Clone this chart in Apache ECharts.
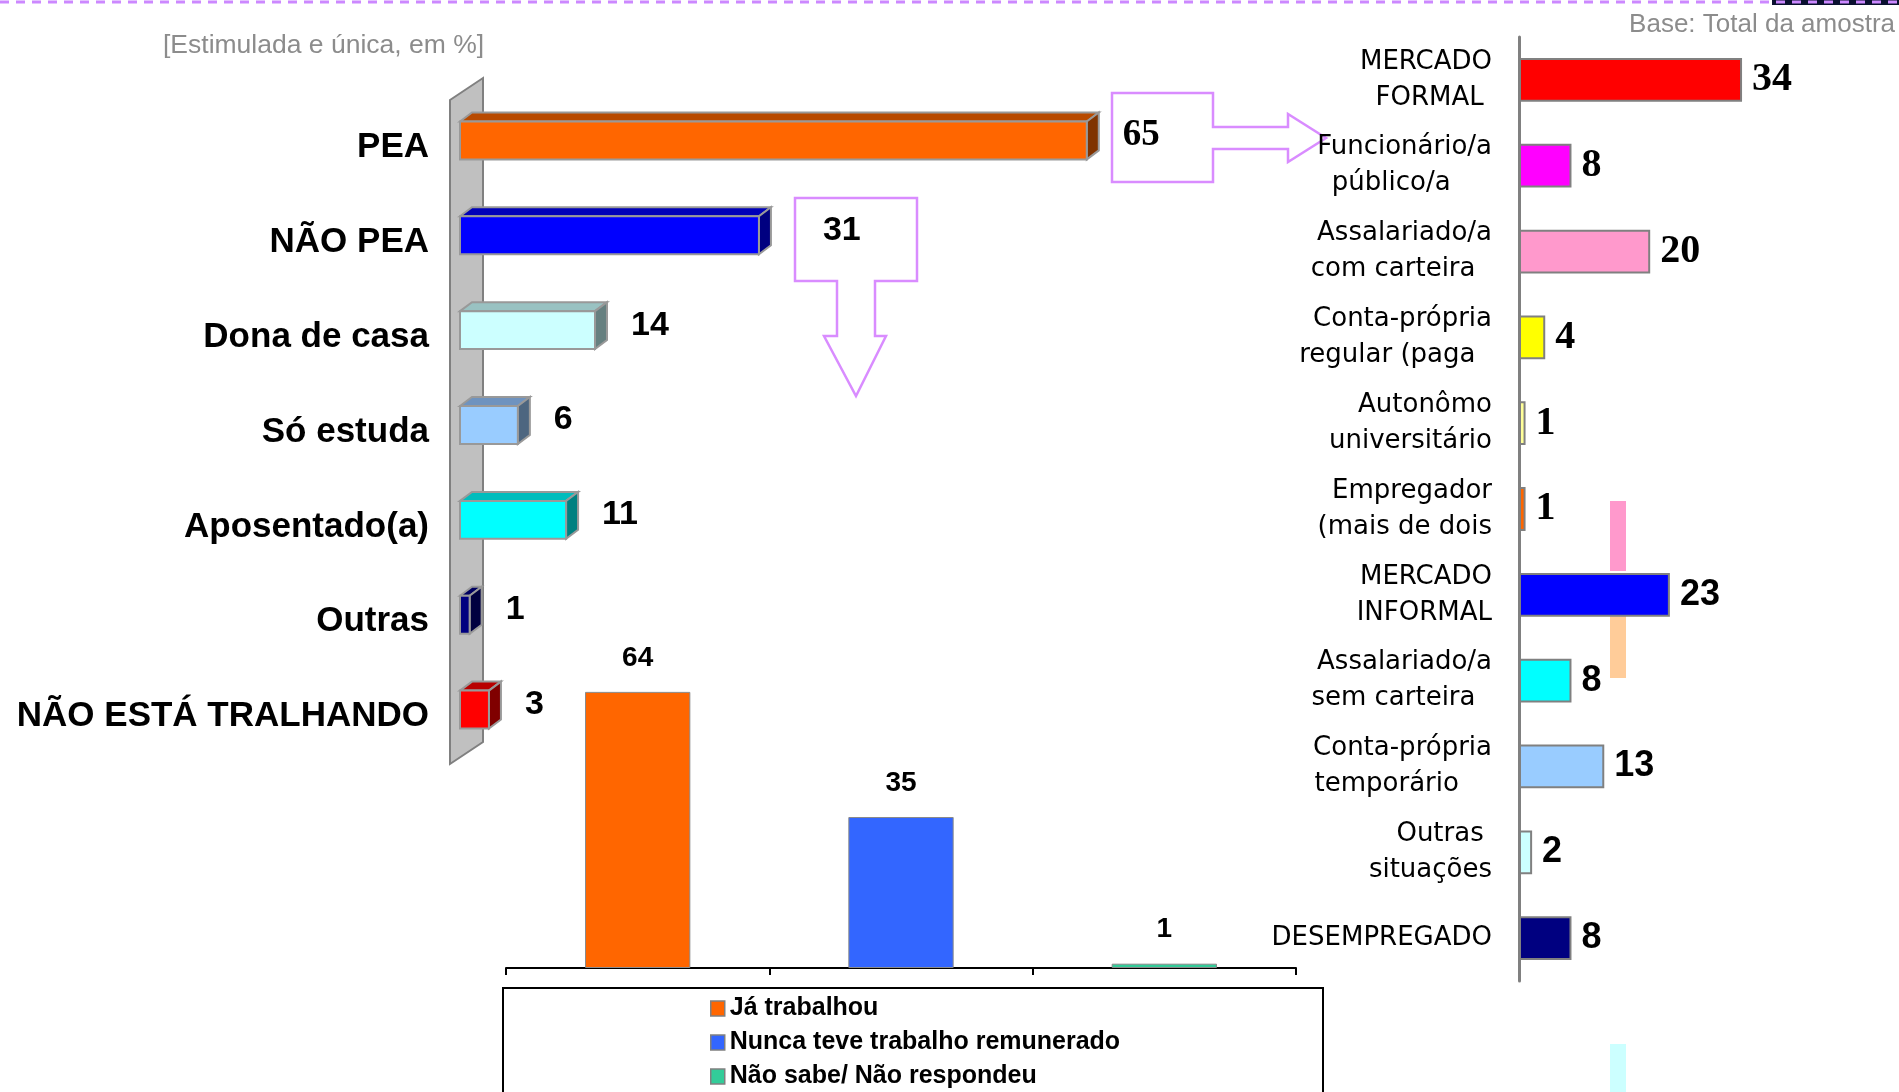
<!DOCTYPE html>
<html>
<head>
<meta charset="utf-8">
<script src="https://cdn.jsdelivr.net/npm/echarts@6/dist/echarts.min.js"></script>
<style>
html, body { margin: 0; padding: 0; background: #fff; }
#container { width: 1899px; height: 1092px; }
</style>
</head>
<body>
<div id="container"></div>
<script>
var dom = document.getElementById("container");
var myChart = echarts.init(dom, null, { renderer: "canvas" });

// left chart: situação (3D bars)
var leftCategories = ['PEA', 'NÃO PEA', 'Dona de casa', 'Só estuda', 'Aposentado(a)', 'Outras', 'NÃO ESTÁ TRALHANDO'];
var leftValues = [65, 31, 14, 6, 11, 1, 3];

// right chart: mercado de trabalho
var rightCategories = [
    'MERCADO\nFORMAL ', 'Funcionário/a\npúblico/a     ', 'Assalariado/a\ncom carteira  ',
    'Conta-própria\nregular (paga  ', 'Autonômo\nuniversitário', 'Empregador\n(mais de dois',
    'MERCADO\nINFORMAL', 'Assalariado/a\nsem carteira  ', 'Conta-própria\ntemporário    ',
    'Outras \nsituações', 'DESEMPREGADO'
];
var rightValues = [34, 8, 20, 4, 1, 1, 23, 8, 13, 2, 8];

// bottom chart: não está trabalhando
var bottomCategories = ['Já trabalhou', 'Nunca teve trabalho remunerado', 'Não sabe/ Não respondeu'];
var bottomValues = [64, 35, 1];

// colours
var leftFront = ['#FF6600', '#0000FF', '#CCFFFF', '#99CCFF', '#00FFFF', '#000080', '#FF0000'];
var leftTop = ['#B84A00', '#0000B8', '#99C2C2', '#6F93BF', '#00BDBD', '#000060', '#B80000'];
var leftSide = ['#803300', '#000080', '#668080', '#4D6680', '#008080', '#000040', '#800000'];
var rightColors = ['#FF0000', '#FF00FF', '#FF99CC', '#FFFF00', '#FFFF99', '#FF6600',
    '#0000FF', '#00FFFF', '#99CCFF', '#CCFFFF', '#000080'];
var bottomColors = ['#FF6600', '#3366FF', '#33CC99'];

var SANS = "'Liberation Sans', Arial, sans-serif";
var SERIF = "'Liberation Serif', 'Times New Roman', serif";

function renderWall(params, api) {
    var cs = params.coordSys;
    var l = cs.x - 10, r = cs.x + 23, t = cs.y, b = cs.y + cs.height;
    return {
        type: 'polygon',
        shape: { points: [[l, t], [r, t - 22], [r, b - 22], [l, b]] },
        style: { fill: '#C0C0C0', stroke: '#808080', lineWidth: 2 }
    };
}

function renderBar3d(params, api) {
    var i = params.dataIndex;
    var cat = api.value(1);
    var start = api.coord([0, cat]);
    var end = api.coord([api.value(0), cat]);
    var h = api.size([0, 1])[1] * 0.4;
    var x0 = start[0], x1 = end[0];
    var y0 = start[1] - h / 2 - 7, y1 = y0 + h;
    var dx = 12, dy = -9;
    // NÃO PEA value sits inside the callout box
    var gap = i === 1 ? 52 : 24;
    var edge = { stroke: '#999999', lineWidth: 2 };
    return {
        type: 'group',
        children: [
            {
                type: 'polygon',
                shape: { points: [[x0, y0], [x0 + dx, y0 + dy], [x1 + dx, y0 + dy], [x1, y0]] },
                style: { fill: leftTop[i], stroke: edge.stroke, lineWidth: edge.lineWidth }
            },
            {
                type: 'polygon',
                shape: { points: [[x1, y0], [x1 + dx, y0 + dy], [x1 + dx, y1 + dy], [x1, y1]] },
                style: { fill: leftSide[i], stroke: edge.stroke, lineWidth: edge.lineWidth }
            },
            {
                type: 'rect',
                shape: { x: x0, y: y0, width: x1 - x0, height: h },
                style: { fill: leftFront[i], stroke: edge.stroke, lineWidth: edge.lineWidth }
            },
            {
                type: 'text',
                x: x1 + dx + gap,
                y: (y0 + y1) / 2 - 5,
                style: {
                    text: String(api.value(0)),
                    fontSize: i === 0 ? 37 : 34,
                    fontWeight: 'bold',
                    fontFamily: i === 0 ? SERIF : SANS,
                    fill: '#000',
                    align: 'left',
                    verticalAlign: 'middle'
                }
            }
        ]
    };
}

var bottomSeries = bottomCategories.map(function (name, i) {
    return {
        name: name,
        type: 'bar',
        xAxisIndex: 2,
        yAxisIndex: 2,
        barWidth: '40%',
        barGap: '-100%',
        itemStyle: { color: bottomColors[i], borderColor: '#8a8a8a', borderWidth: 1 },
        label: {
            show: true,
            position: 'top',
            distance: 20,
            fontSize: 28,
            fontWeight: 'bold',
            fontFamily: SANS,
            color: '#000'
        },
        data: bottomCategories.map(function (c, j) { return j === i ? bottomValues[i] : '-'; })
    };
});

var option = {
    animation: false,
    backgroundColor: '#fff',
    grid: [
        { left: 460, top: 100, width: 675, height: 664 },
        { left: 1519, top: 37, width: 328, height: 944 },
        { left: 506, top: 666, width: 790, height: 302 }
    ],
    xAxis: [
        { gridIndex: 0, type: 'value', min: 0, max: 70, show: false },
        { gridIndex: 1, type: 'value', min: 0, max: 50, show: false },
        {
            gridIndex: 2,
            type: 'category',
            data: bottomCategories,
            axisLine: { lineStyle: { color: '#000', width: 2 } },
            axisTick: { show: true, interval: 0, length: 7, lineStyle: { color: '#000', width: 2 } },
            axisLabel: { show: false, interval: 0 }
        }
    ],
    yAxis: [
        {
            gridIndex: 0,
            type: 'category',
            data: leftCategories,
            inverse: true,
            offset: 10,
            axisLine: { show: false },
            axisTick: { length: 15, lineStyle: { color: '#808080', width: 3 } },
            axisLabel: {
                margin: 21,
                fontSize: 35,
                fontWeight: 'bold',
                fontFamily: SANS,
                color: '#000'
            }
        },
        {
            gridIndex: 1,
            type: 'category',
            data: rightCategories,
            inverse: true,
            axisLine: { lineStyle: { color: '#808080', width: 3 } },
            axisTick: { length: 9, lineStyle: { color: '#808080', width: 3 } },
            axisLabel: {
                margin: 27,
                fontSize: 26,
                lineHeight: 36,
                fontFamily: "'DejaVu Sans', sans-serif",
                color: '#000'
            }
        },
        { gridIndex: 2, type: 'value', min: 0, max: 70, show: false }
    ],
    legend: {
        data: bottomCategories,
        orient: 'vertical',
        left: 710,
        top: 996,
        padding: 0,
        itemWidth: 14,
        itemHeight: 15,
        itemGap: 9,
        icon: 'rect',
        itemStyle: { borderColor: '#808080', borderWidth: 1.5 },
        textStyle: { fontSize: 25, fontWeight: 'bold', fontFamily: SANS, color: '#000' }
    },
    series: [
        {
            type: 'custom',
            xAxisIndex: 0,
            yAxisIndex: 0,
            silent: true,
            z: 1,
            clip: false,
            renderItem: renderWall,
            data: [[0, 0]]
        },
        {
            type: 'custom',
            xAxisIndex: 0,
            yAxisIndex: 0,
            z: 2,
            clip: false,
            renderItem: renderBar3d,
            encode: { x: 0, y: 1 },
            data: leftValues.map(function (v, i) { return [v, i]; })
        },
        {
            type: 'bar',
            xAxisIndex: 1,
            yAxisIndex: 1,
            barWidth: '51%',
            itemStyle: { borderColor: '#808080', borderWidth: 2 },
            label: {
                show: true,
                position: 'right',
                distance: 10,
                fontWeight: 'bold',
                color: '#000'
            },
            data: rightValues.map(function (v, i) {
                return {
                    value: v,
                    itemStyle: { color: rightColors[i] },
                    label: { fontFamily: i < 6 ? SERIF : SANS, fontSize: i < 6 ? 40 : 36 }
                };
            })
        }
    ].concat(bottomSeries),
    graphic: [
        { type: 'rect', shape: { x: 1772, y: 0, width: 127, height: 5 }, style: { fill: '#0a1030' } },
        {
            type: 'line',
            shape: { x1: 0, y1: 2, x2: 1899, y2: 2 },
            style: { stroke: '#CC88FF', lineWidth: 3, lineDash: [9, 7] }
        },
        {
            type: 'text', left: 163, top: 32,
            style: { text: '[Estimulada e única, em %]', fontSize: 26.5, fontFamily: SANS, fill: '#8c8c8c' }
        },
        {
            type: 'text', right: 4, top: 12,
            style: { text: 'Base: Total da amostra', fontSize: 26, fontFamily: SANS, fill: '#8c8c8c' }
        },
        // callout arrows
        {
            type: 'polygon',
            shape: { points: [[1112, 93], [1213, 93], [1213, 127], [1288, 127], [1288, 114], [1326, 138],
                [1288, 162], [1288, 149], [1213, 149], [1213, 182], [1112, 182]] },
            style: { fill: 'rgba(0,0,0,0)', stroke: '#D98CFF', lineWidth: 2.5 }
        },
        {
            type: 'polygon',
            shape: { points: [[795, 198], [917, 198], [917, 281], [875, 281], [875, 336], [886, 336],
                [856, 396], [824, 336], [837, 336], [837, 281], [795, 281]] },
            style: { fill: 'rgba(0,0,0,0)', stroke: '#D98CFF', lineWidth: 2.5 }
        },
        // stray colour strips
        { type: 'rect', shape: { x: 1610, y: 501, width: 16, height: 70 }, style: { fill: '#FF99CC' } },
        { type: 'rect', shape: { x: 1610, y: 610, width: 16, height: 68 }, style: { fill: '#FFCC99' } },
        { type: 'rect', shape: { x: 1610, y: 1044, width: 16, height: 48 }, style: { fill: '#CCFFFF' } },
        // legend frame
        {
            type: 'rect',
            shape: { x: 503, y: 988, width: 820, height: 120 },
            style: { fill: 'rgba(0,0,0,0)', stroke: '#000', lineWidth: 2 }
        }
    ]
};

myChart.setOption(option);
window.addEventListener("resize", myChart.resize);
</script>
</body>
</html>
